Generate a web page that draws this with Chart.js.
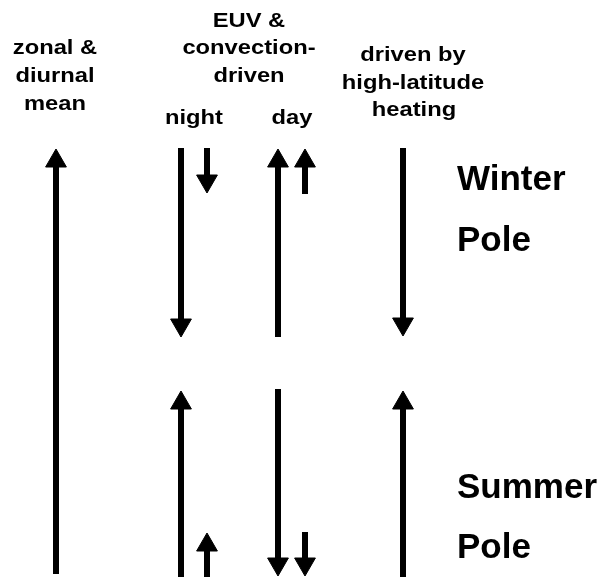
<!DOCTYPE html>
<html>
<head>
<meta charset="utf-8">
<script src="https://cdn.jsdelivr.net/npm/chart.js@4"></script>
<style>
    html, body { margin: 0; padding: 0; background: #fff; }
    #wrap { width: 603px; height: 579px; position: relative; }
</style>
</head>
<body>
<div id="wrap"><canvas id="myChart"></canvas></div>
<script>
// arrows: column position, tail and head (y runs from top of the figure downwards)
const arrowX    = [56, 181, 207, 278, 305, 403, 181, 207, 278, 305, 403];
const arrowTail = [574, 148, 148, 337, 194, 148, 577, 577, 389, 532, 577];
const arrowHead = [149, 337, 193, 149, 149, 336, 391, 533, 576, 576, 391];

// column headers
const headerLines = ['zonal &', 'diurnal', 'mean',
                     'EUV &', 'convection-', 'driven', 'night', 'day',
                     'driven by', 'high-latitude', 'heating'];
const headerX = [55, 55, 55, 249, 249, 249, 194, 292, 413, 413, 414];
const headerY = [54, 82, 110, 27, 54, 82, 124, 124, 61, 89, 116];

// pole labels on the right
const poleLines = ['Winter', 'Pole', 'Summer', 'Pole'];
const poleX = [457, 457, 457, 457];
const poleY = [190, 251, 498, 558];

const HEAD = 12;
const FONT = '"Liberation Sans", Arial, sans-serif';

const textLabels = {
    id: 'textLabels',
    afterDatasetsDraw(chart) {
        const { ctx, scales: { x, y } } = chart;
        ctx.save();
        ctx.fillStyle = '#000';
        ctx.textBaseline = 'alphabetic';

        // header text in the figure is a little wider than plain Arial bold
        ctx.font = 'bold 21px ' + FONT;
        ctx.textAlign = 'center';
        headerLines.forEach((t, i) => {
            ctx.save();
            ctx.translate(x.getPixelForValue(headerX[i]), y.getPixelForValue(headerY[i]));
            ctx.scale(1.13, 1);
            ctx.fillText(t, 0, 0);
            ctx.restore();
        });

        ctx.font = 'bold 35px ' + FONT;
        ctx.textAlign = 'left';
        poleLines.forEach((t, i) => {
            ctx.fillText(t, x.getPixelForValue(poleX[i]), y.getPixelForValue(poleY[i]));
        });
        ctx.restore();
    }
};

function loadChart() {
    const datasets = arrowX.map((xv, i) => {
        const dir = arrowHead[i] > arrowTail[i] ? 1 : -1; // 1 = pointing down
        return {
            data: [
                { x: xv, y: arrowTail[i] },
                { x: xv, y: arrowHead[i] - dir * HEAD }
            ],
            showLine: true,
            borderColor: '#000',
            backgroundColor: '#000',
            borderWidth: 6,
            borderCapStyle: 'butt',
            pointStyle: 'triangle',
            pointRadius: [0, HEAD],
            pointHoverRadius: [0, HEAD],
            pointRotation: [0, dir > 0 ? 180 : 0],
            pointBorderColor: '#000',
            pointBackgroundColor: '#000',
            pointBorderWidth: 1,
            clip: false
        };
    });

    const config = {
        type: 'scatter',
        data: { datasets },
        options: {
            responsive: true,
            maintainAspectRatio: false,
            animation: false,
            events: [],
            layout: { padding: 0, autoPadding: false },
            scales: {
                x: { type: 'linear', min: 0, max: 603, display: false },
                y: { type: 'linear', min: 0, max: 579, reverse: true, display: false }
            },
            plugins: {
                legend: { display: false },
                tooltip: { enabled: false }
            }
        },
        plugins: [textLabels]
    };

    const ctx = document.getElementById('myChart').getContext('2d');
    if (ctx) {
        new Chart(ctx, config);
    }
}

loadChart();
</script>
</body>
</html>
